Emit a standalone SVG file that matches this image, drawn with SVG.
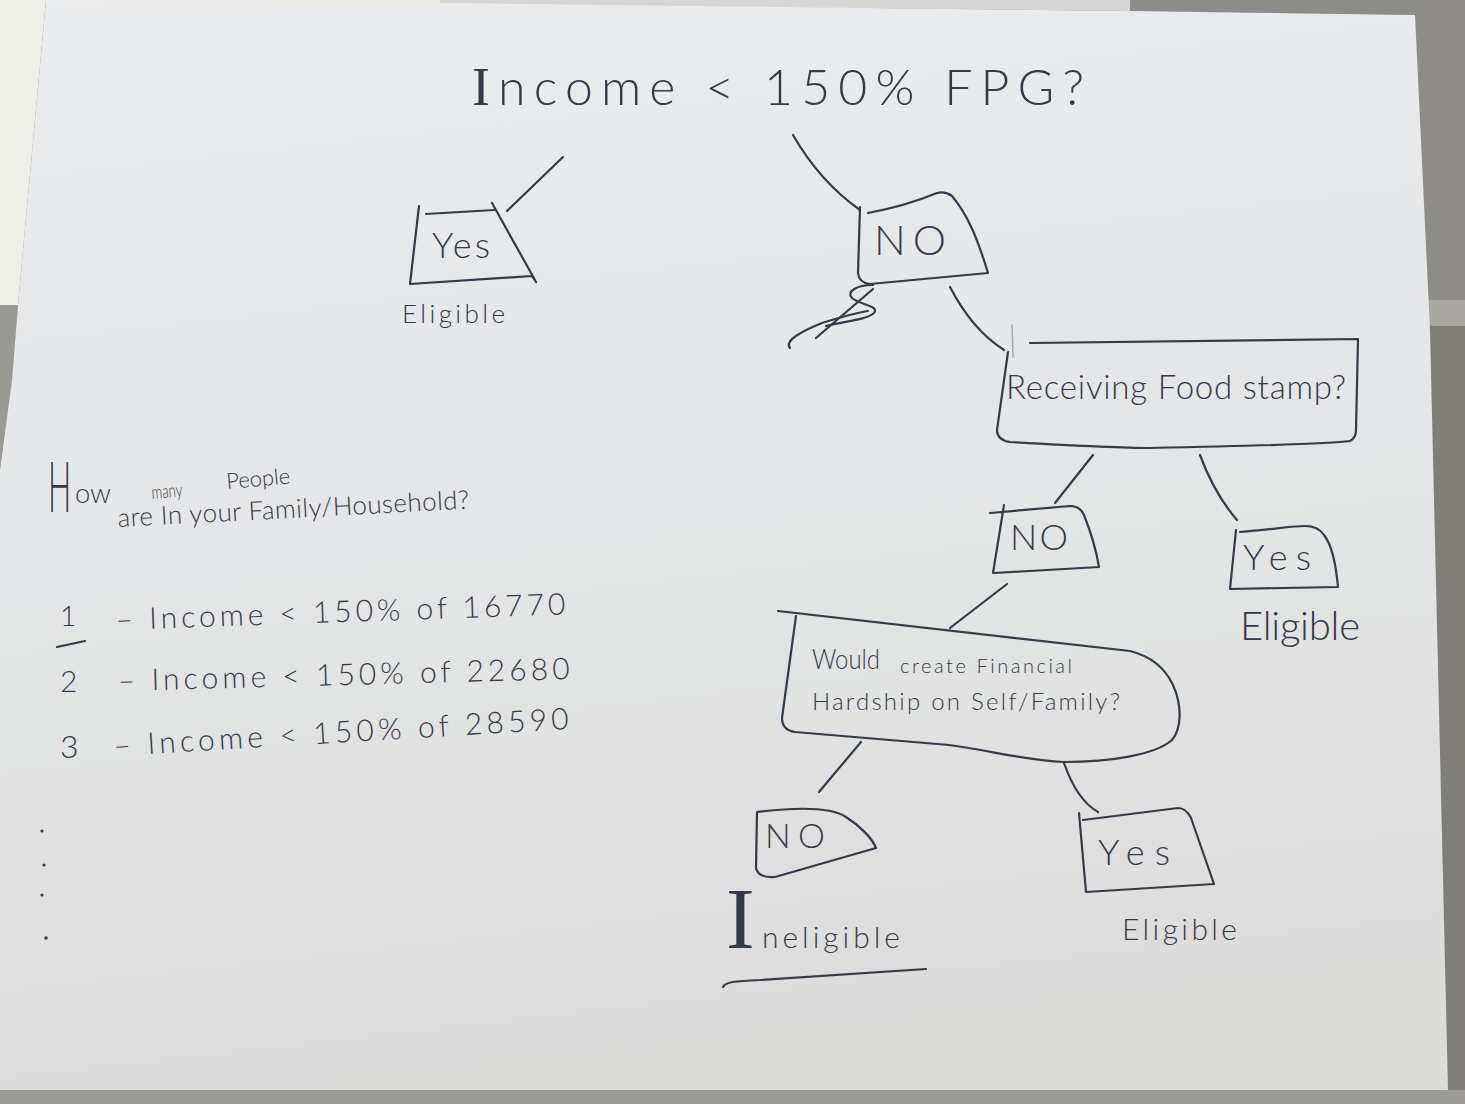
<svg xmlns="http://www.w3.org/2000/svg" width="1465" height="1104" viewBox="0 0 1465 1104">
  <defs>
    <linearGradient id="paper" x1="0" y1="0" x2="0.15" y2="1">
      <stop offset="0" stop-color="#ebecee"/>
      <stop offset="0.55" stop-color="#e4e5e6"/>
      <stop offset="1" stop-color="#dcdddb"/>
    </linearGradient>
    <style>
      .ink { fill: none; stroke: #363a48; stroke-width: 2.2; stroke-linecap: round; stroke-linejoin: round; }
      .faint { fill: none; stroke: #a9acb4; stroke-width: 1.6; stroke-linecap: round; }
      .hand { font-family: Lato, "Open Sans", "Liberation Sans", sans-serif; font-weight: 300; fill: #363a48; }
      .serifI { font-family: "Liberation Serif", serif; font-weight: 400; }
    </style>
  </defs>

  <!-- desk and surroundings -->
  <rect x="0" y="0" width="1465" height="1104" fill="#807e79"/>
  <polygon points="0,0 46,0 18,305 0,305" fill="#efefe9"/>
  <polygon points="0,305 18,305 12,380 0,470" fill="#9a9a95"/>
  <polygon points="46,0 440,0 440,4 46,2" fill="#ecece6"/>
  <polygon points="440,0 1130,0 1130,11 440,4" fill="#d6d6d4"/>
  <polygon points="1130,0 1465,0 1465,322 1420,322 1415,15 1130,11" fill="#8e8c88"/>
  <path d="M1420,300 L1465,300 L1465,326 L1435,326 Q1424,326 1421,318 Z" fill="#aaa8a3"/>
  <rect x="0" y="1090" width="1465" height="14" fill="#9c9b95"/>

  <!-- sheet of paper -->
  <polygon points="46,0 440,3 1130,11 1415,15 1430,330 1448,1090 0,1090 0,470 12,380 18,305" fill="url(#paper)"/>

  <!-- root question -->
  <g id="q-income">
    <text class="hand" x="472" y="105" font-size="50" textLength="612" lengthAdjust="spacing"><tspan class="serifI" font-size="54">I</tspan>ncome &lt; 150% FPG?</text>
  </g>

  <!-- connectors -->
  <g id="connectors">
    <path class="ink" d="M563,157 L507,211"/>
    <path class="ink" d="M793,135 C812,168 836,193 860,210"/>
    <path class="ink" d="M950,287 C963,312 982,336 1004,350"/>
    <path class="ink" d="M1093,455 L1055,503"/>
    <path class="ink" d="M1200,455 C1210,482 1224,505 1237,520"/>
    <path class="ink" d="M1007,584 L950,628"/>
    <path class="ink" d="M861,742 L819,792"/>
    <path class="ink" d="M1064,763 C1072,786 1084,804 1098,812"/>
  </g>

  <!-- crossed-out stroke under the first No -->
  <g id="scribble">
    <path class="ink" d="M873,285 C856,285 846,292 852,298 C860,305 880,306 874,313 C866,320 845,321 826,326"/>
    <path class="ink" d="M816,338 L873,289"/>
    <path class="ink" d="M790,348 C784,341 800,332 822,323 C838,318 856,313 868,311"/>
    <path class="faint" d="M1012,325 L1013,357"/>
  </g>

  <g id="yes-income">
    <path class="ink" d="M419,206 L410,284 L532,276 L536,282 M426,214 L494,210 M492,203 L535,280"/>
    <text class="hand" x="432" y="258" font-size="36" textLength="58" lengthAdjust="spacing">Yes</text>
    <text class="hand" x="402" y="323" font-size="26" textLength="103" lengthAdjust="spacing">Eligible</text>
  </g>

  <g id="no-income">
    <path class="ink" d="M860,207 L858,273 Q859,283 870,284 L988,273 C978,240 968,215 952,196 Q945,191 937,193 C920,200 895,208 868,213"/>
    <text class="hand" x="874" y="255" font-size="42" textLength="72" lengthAdjust="spacing">NO</text>
  </g>

  <g id="q-foodstamp">
    <path class="ink" d="M1008,352 L997,430 Q997,440 1010,442 C1080,446 1130,448 1150,448 C1250,446 1330,444 1350,441 Q1356,438 1356,430 L1358,339 L1030,343"/>
    <text class="hand" x="1006" y="399" font-size="33" textLength="340" lengthAdjust="spacing">Receiving Food stamp?</text>
  </g>

  <g id="no-foodstamp">
    <path class="ink" d="M990,513 L1070,506 Q1080,506 1084,515 C1092,535 1097,555 1099,567 L994,573 M1004,505 L993,573"/>
    <text class="hand" x="1010" y="550" font-size="36" textLength="58" lengthAdjust="spacing">NO</text>
  </g>

  <g id="yes-foodstamp">
    <path class="ink" d="M1240,532 C1270,530 1290,526 1305,526 Q1318,526 1324,535 C1332,545 1336,565 1338,587 L1230,589 L1236,530"/>
    <text class="hand" x="1243" y="570" font-size="36" textLength="68" lengthAdjust="spacing">Yes</text>
    <text class="hand" x="1240" y="640" font-size="40" textLength="120" lengthAdjust="spacing">Eligible</text>
  </g>

  <g id="q-hardship">
    <path class="ink" d="M778,611 L1130,651 C1150,656 1165,668 1173,685 C1182,705 1182,728 1172,740 C1155,755 1110,762 1064,762 C1020,760 990,750 949,745 L795,732 Q782,730 782,718 L796,616"/>
    <text class="hand" x="812" y="669" font-size="28" textLength="68" lengthAdjust="spacingAndGlyphs">Would</text>
    <text class="hand" x="900" y="673" font-size="20" textLength="172" lengthAdjust="spacing">create Financial</text>
    <text class="hand" x="812" y="710" font-size="24" textLength="308" lengthAdjust="spacing">Hardship on Self/Family?</text>
  </g>

  <g id="no-hardship">
    <path class="ink" d="M757,812 C790,808 830,806 846,817 C860,826 872,838 876,848 L775,877 Q758,878 756,868 L757,812"/>
    <text class="hand" x="765" y="848" font-size="34" textLength="60" lengthAdjust="spacing">NO</text>
    <text class="hand" x="726" y="948" font-size="30"><tspan class="serifI" font-size="86">I</tspan><tspan x="762" textLength="138" lengthAdjust="spacing">neligible</tspan></text>
    <path class="ink" d="M723,987 C725,982 735,981 760,980 L926,969"/>
  </g>

  <g id="yes-hardship">
    <path class="ink" d="M1079,813 L1086,892 L1214,884 L1191,818 Q1186,808 1178,808 L1083,820"/>
    <text class="hand" x="1098" y="865" font-size="36" textLength="72" lengthAdjust="spacing">Yes</text>
    <text class="hand" x="1122" y="940" font-size="30" textLength="115" lengthAdjust="spacing">Eligible</text>
  </g>

  <!-- household size notes -->
  <g id="household-notes">
    <text class="hand" font-size="70" transform="matrix(0.44 0 0 1 48 512)">H</text>
    <text class="hand" x="75" y="503" font-size="28" textLength="36" lengthAdjust="spacingAndGlyphs">ow</text>
    <text class="hand" x="152" y="499" font-size="19" textLength="31" lengthAdjust="spacingAndGlyphs" transform="rotate(-5 152 499)">many</text>
    <text class="hand" x="227" y="489" font-size="22" textLength="64" lengthAdjust="spacing" transform="rotate(-5 227 489)">People</text>
    <text class="hand" x="118" y="527" font-size="26" textLength="352" lengthAdjust="spacing" transform="rotate(-3 118 527)">are In your Family/Household?</text>

    <text class="hand" x="60" y="626" font-size="28">1</text>
    <path class="ink" d="M57,647 L85,641"/>
    <text class="hand" x="116" y="630" font-size="30" textLength="450" lengthAdjust="spacing" transform="rotate(-2 116 630)">– Income &lt; 150% of 16770</text>

    <text class="hand" x="60" y="692" font-size="30">2</text>
    <text class="hand" x="118" y="691" font-size="30" textLength="452" lengthAdjust="spacing" transform="rotate(-1.5 118 691)">– Income &lt; 150% of 22680</text>

    <text class="hand" x="60" y="758" font-size="32">3</text>
    <text class="hand" x="114" y="756" font-size="30" textLength="456" lengthAdjust="spacing" transform="rotate(-3.4 114 756)">– Income &lt; 150% of 28590</text>

    <circle cx="42" cy="831" r="1.6" fill="#363a48"/>
    <circle cx="44" cy="865" r="1.6" fill="#363a48"/>
    <circle cx="42" cy="895" r="1.6" fill="#363a48"/>
    <circle cx="46" cy="938" r="1.8" fill="#363a48"/>
  </g>
</svg>
